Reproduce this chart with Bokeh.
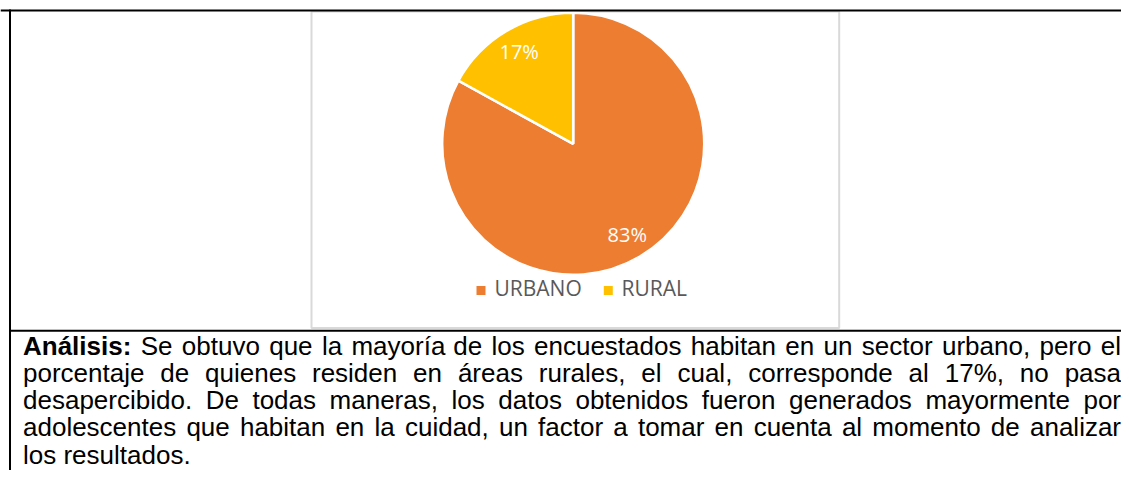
import math
from bokeh.plotting import figure
from bokeh.models import Range1d, ColumnDataSource
from bokeh.core.properties import value
from bokeh.embed import file_html
from bokeh.resources import INLINE

# ---------------- data ----------------
categories = ["URBANO", "RURAL"]
percentages = [83, 17]
colors = ["#ED7D31", "#FFC000"]

analysis_label = "Análisis:"
paragraph_lines = [
    "Se obtuvo que la mayoría de los encuestados habitan en un sector urbano, pero el",
    "porcentaje de quienes residen en áreas rurales, el cual, corresponde al 17%, no pasa",
    "desapercibido. De todas maneras, los datos obtenidos fueron generados mayormente por",
    "adolescentes que habitan en la cuidad, un factor a tomar en cuenta al momento de analizar",
    "los resultados.",
]

# ---------------- layout helpers ----------------
W, H = 1121, 470
BASE_FIX = 0.4  # rendered baseline sits ~0.4 em lower than requested


def Y(py):
    """picture y (top-down) -> data y"""
    return H - py


def YT(py, fs):
    """baseline position for text of size fs, corrected"""
    return H - py + BASE_FIX * fs


# Arial / Liberation Sans advance widths (1/1000 em)
REG = {' ': 278, ',': 278, '.': 278, '%': 889, ':': 278, '1': 556, '7': 556,
       'a': 556, 'b': 556, 'c': 500, 'd': 556, 'e': 556, 'f': 278, 'g': 556, 'h': 556,
       'i': 222, 'j': 222, 'k': 500, 'l': 222, 'm': 833, 'n': 556, 'o': 556, 'p': 556,
       'q': 556, 'r': 333, 's': 500, 't': 278, 'u': 556, 'v': 500, 'w': 722, 'x': 500,
       'y': 500, 'z': 500, 'á': 556, 'é': 556, 'í': 222, 'ó': 556, 'ú': 556, 'ñ': 556,
       'A': 667, 'B': 667, 'C': 722, 'D': 722, 'E': 667, 'F': 611, 'G': 778, 'H': 722,
       'I': 278, 'J': 500, 'K': 667, 'L': 556, 'M': 833, 'N': 722, 'O': 778, 'P': 667,
       'Q': 778, 'R': 722, 'S': 667, 'T': 611, 'U': 722, 'V': 667, 'W': 944, 'X': 667,
       'Y': 667, 'Z': 611}
BOLD = {'A': 722, 'n': 611, 'á': 556, 'l': 278, 'i': 278, 's': 556, ':': 333, ' ': 278}

FS = 26
LAB_FS = 20
LEG_FS = 21


def tw(s, table=REG):
    return sum(table.get(c, 556) for c in s) * FS / 1000.0


p = figure(width=W, height=H, x_range=Range1d(0, W), y_range=Range1d(0, H),
           output_backend="svg", toolbar_location=None,
           x_axis_location=None, y_axis_location=None, min_border=0)
p.grid.visible = False
p.outline_line_color = None
p.background_fill_color = "white"
p.border_fill_color = "white"

# chart area frame (light grey)
p.quad(left=311, right=838.7, top=Y(11), bottom=Y(327.5),
       fill_color="white", line_color="#D9D9D9", line_width=2)

# ---------------- pie ----------------
cx, cy, r = 572.7, 143.3, 131
total = float(sum(percentages))
starts, ends = [], []
a = math.pi / 2
for v in percentages:
    sweep = 2 * math.pi * v / total
    starts.append(a)
    ends.append(a - sweep)
    a -= sweep

pie_src = ColumnDataSource(dict(cat=categories, start=starts, end=ends, color=colors))
p.wedge(x=cx, y=Y(cy), radius=r, start_angle="start", end_angle="end",
        direction="clock", fill_color="color", line_color="white", line_width=2.5,
        source=pie_src)

lab_x, lab_y, lab_t = [], [], []
for v, s, e in zip(percentages, starts, ends):
    mid = (s + e) / 2
    lx = cx + 0.81 * r * math.cos(mid)
    ly = cy - 0.81 * r * math.sin(mid)
    lab_x.append(lx)
    lab_y.append(YT(ly + 7.2, LAB_FS))
    lab_t.append(f"{v}%")
p.text(x=lab_x, y=lab_y, text=lab_t, text_color="white",
       text_font=value("Open Sans"), text_font_size=f"{LAB_FS}px",
       text_align="center", text_baseline="alphabetic")

# ---------------- legend ----------------
leg_square_x = [480.5, 607.8]
leg_text_x = [494, 621]
p.scatter(x=leg_square_x, y=[Y(290)] * len(categories), marker="square", size=9,
          fill_color=colors, line_color=None)
p.text(x=leg_text_x, y=[YT(295.7, LEG_FS)] * len(categories), text=categories,
       text_color="#595959", text_font=value("Open Sans"), text_font_size=f"{LEG_FS}px",
       text_align="left", text_baseline="alphabetic")

# ---------------- table lines ----------------
p.segment(x0=[0, 9.5, 9.5], y0=[Y(10), Y(9), Y(330.3)],
          x1=[W, 9.5, W], y1=[Y(10), Y(H), Y(330.3)],
          line_color="black", line_width=2)

# ---------------- paragraph ----------------
x_left, x_right = 22.5, 1120.5
base0, lead = 356.0, 27.1

wx, wy, wt = [], [], []
bx, by, bt = [], [], []
for i, line in enumerate(paragraph_lines):
    yb = YT(base0 + i * lead, FS)
    words = line.split(" ")
    widths = [tw(w) for w in words]
    if i == 0:
        words = [analysis_label] + words
        widths = [tw(analysis_label, BOLD)] + widths
    justify = i < len(paragraph_lines) - 1
    if justify and len(words) > 1:
        gap = (x_right - x_left - sum(widths)) / (len(words) - 1)
    else:
        gap = tw(" ")
    x = x_left
    for j, (w, wd) in enumerate(zip(words, widths)):
        if i == 0 and j == 0:
            bx.append(x); by.append(yb); bt.append(w)
        else:
            wx.append(x); wy.append(yb); wt.append(w)
        x += wd + gap

p.text(x=wx, y=wy, text=wt, text_color="black", text_font=value("Liberation Sans"),
       text_font_size=f"{FS}px", text_align="left", text_baseline="alphabetic")
p.text(x=bx, y=by, text=bt, text_color="black", text_font=value("Liberation Sans"),
       text_font_size=f"{FS}px", text_font_style="bold", text_align="left",
       text_baseline="alphabetic")

open("out.html", "w").write(file_html(p, INLINE))
